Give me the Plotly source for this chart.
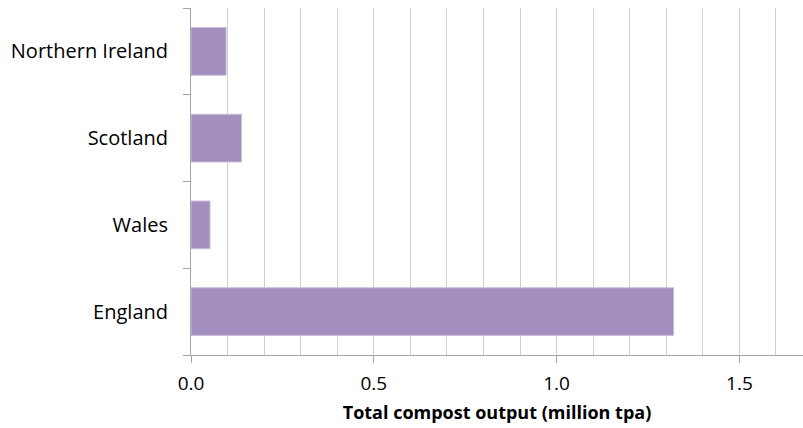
import plotly.graph_objects as go

# Total compost output by UK nation (million tonnes per annum)
nations = ["England", "Wales", "Scotland", "Northern Ireland"]
output_mtpa = [1.32, 0.052, 0.138, 0.096]

BAR_COLOR = "#a28fbe"
GRID_COLOR = "#d0d0d0"
AXIS_COLOR = "#a6a6a6"
FONT = "Open Sans, Liberation Sans, sans-serif"

fig = go.Figure(
    go.Bar(
        x=output_mtpa,
        y=nations,
        orientation="h",
        width=0.55,
        marker=dict(color=BAR_COLOR, line=dict(color="#c9bcdc", width=1)),
    )
)

fig.update_layout(
    width=803,
    height=428,
    margin=dict(l=191, r=0, t=8, b=73),
    paper_bgcolor="white",
    plot_bgcolor="white",
    showlegend=False,
    font=dict(family=FONT, color="#000000", size=19),
)

fig.update_xaxes(
    range=[0, 1.674],
    tickmode="linear",
    tick0=0,
    dtick=0.5,
    tickformat=".1f",
    ticks="outside",
    ticklen=7,
    tickcolor=AXIS_COLOR,
    showline=True,
    linecolor=AXIS_COLOR,
    linewidth=1,
    showgrid=True,
    gridcolor=GRID_COLOR,
    zeroline=False,
    minor=dict(dtick=0.1, tick0=0, showgrid=True, gridcolor=GRID_COLOR),
    tickfont=dict(size=19),
    ticklabelstandoff=4,
    title=dict(
        text="<b>Total compost output (million tpa)</b>",
        font=dict(size=18),
        standoff=11,
    ),
)

fig.update_yaxes(
    categoryorder="array",
    categoryarray=nations,
    showline=True,
    linecolor=AXIS_COLOR,
    linewidth=1,
    ticks="outside",
    tickson="boundaries",
    ticklen=7,
    tickcolor=AXIS_COLOR,
    showgrid=False,
    tickfont=dict(size=20),
    ticklabelstandoff=18,
)

fig.write_html("out.html")
